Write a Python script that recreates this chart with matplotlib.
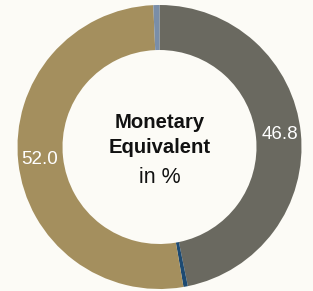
import matplotlib
matplotlib.use("Agg")
import matplotlib.pyplot as plt

categories = ["Gray", "Dark blue", "Tan", "Light blue"]
values = [46.8, 0.5, 52.0, 0.7]
labels = ["46.8", "", "52.0", ""]
colors = ["#6a6960", "#1d4a72", "#a48f5e", "#7a8ea8"]

W, H = 313, 291
bg = "#fcfbf6"
fig = plt.figure(figsize=(W / 100, H / 100), dpi=100, facecolor=bg)
ax = fig.add_axes([0, 0, 1, 1])
ax.set_facecolor(bg)

cx, cy = 159.5, H - 147
R = 142
wedges, texts = ax.pie(values, colors=colors, labels=labels, startangle=90,
                       counterclock=False, center=(cx, cy), radius=R,
                       labeldistance=0.85, frame=True,
                       wedgeprops=dict(width=R - 97, linewidth=0),
                       textprops=dict(color="white", fontsize=13.5,
                                      family=["Liberation Sans", "DejaVu Sans"],
                                      ha="center", va="center"))
ax.set_xlim(0, W)
ax.set_ylim(0, H)
ax.set_aspect("equal")
ax.axis("off")

ff = ["Liberation Sans", "DejaVu Sans"]
ax.text(cx, H - 128, "Monetary", ha="center", va="baseline", fontsize=14.6,
        fontweight="bold", family=ff, color="#111111")
ax.text(cx, H - 153, "Equivalent", ha="center", va="baseline", fontsize=14.6,
        fontweight="bold", family=ff, color="#111111")
ax.text(cx, H - 183, "in %", ha="center", va="baseline", fontsize=15.5,
        family=ff, color="#111111")

fig.savefig("out.png", dpi=100, facecolor=bg)
